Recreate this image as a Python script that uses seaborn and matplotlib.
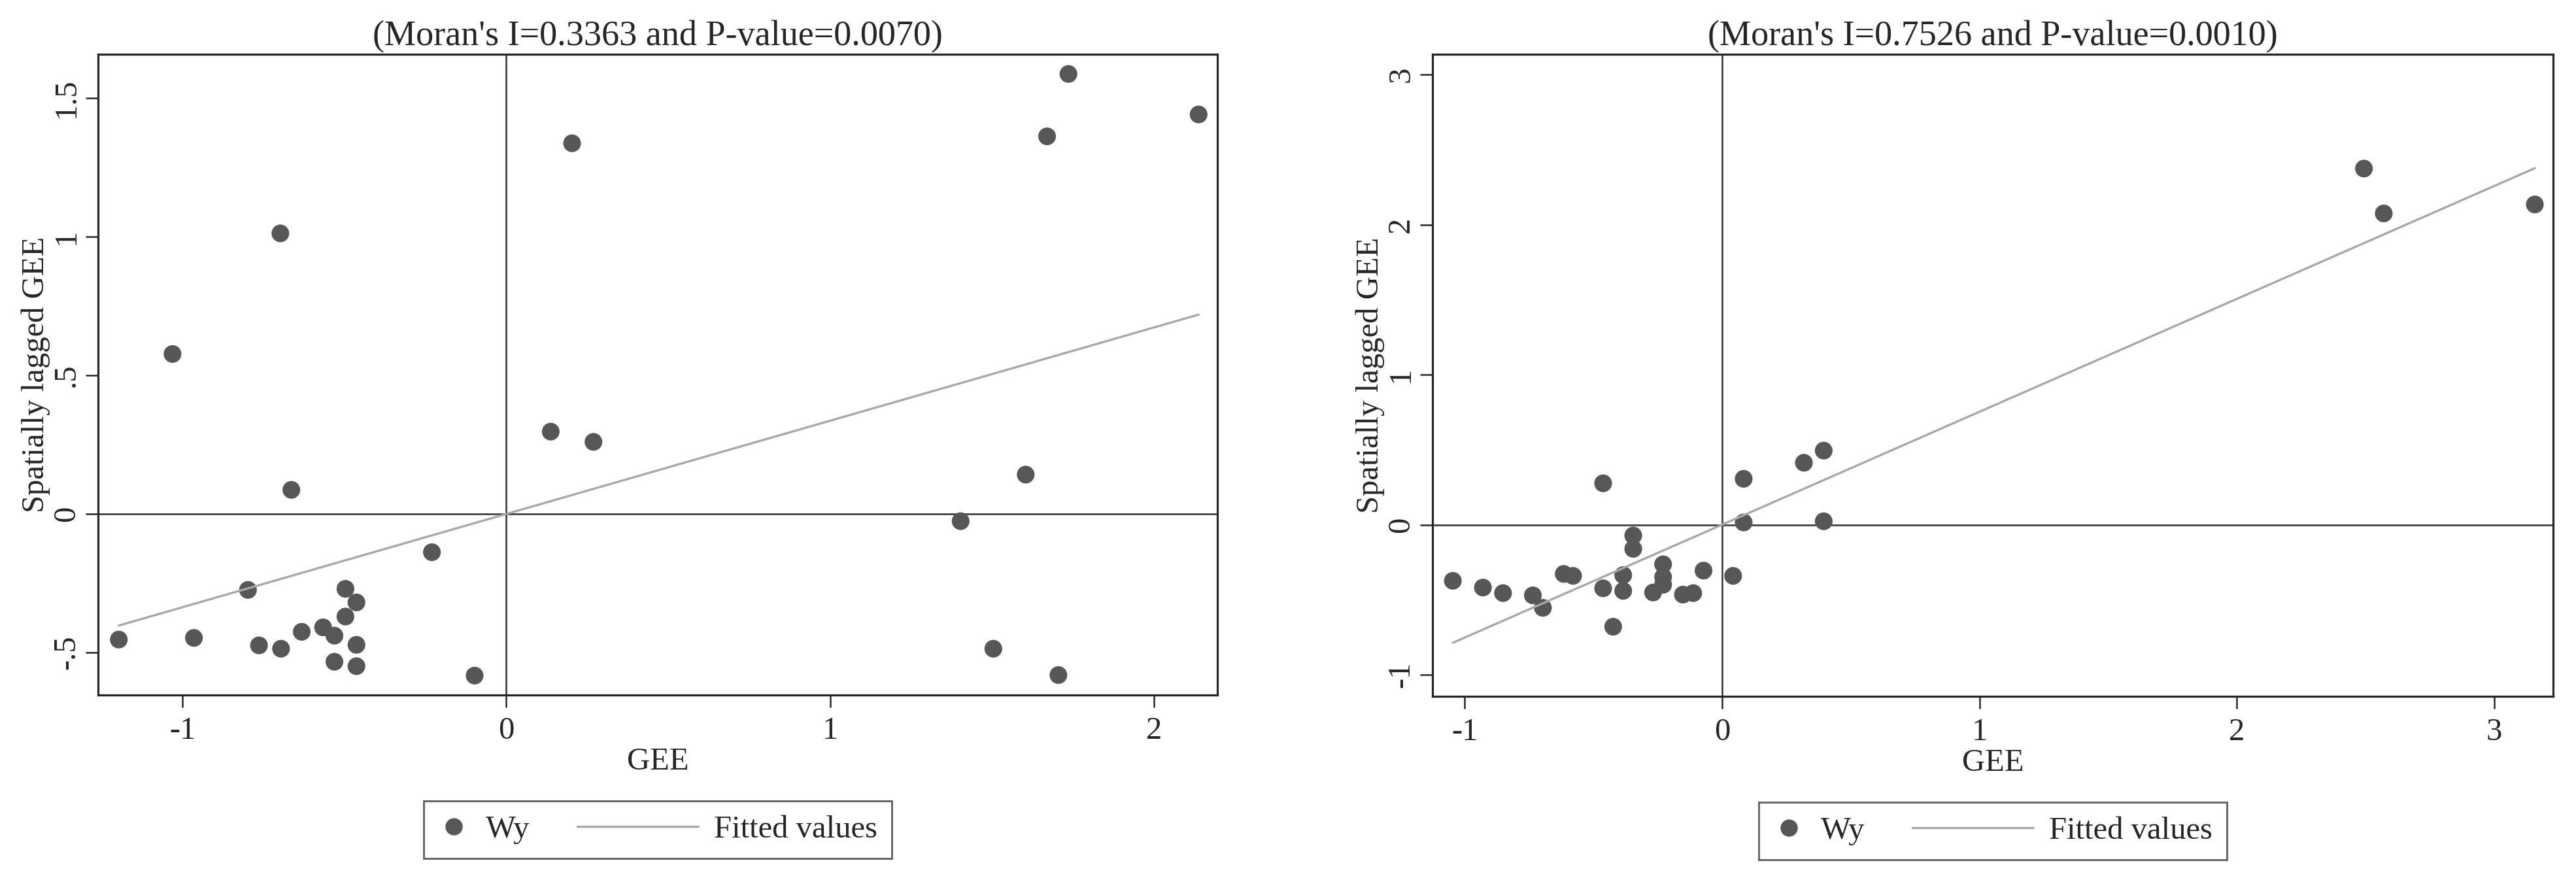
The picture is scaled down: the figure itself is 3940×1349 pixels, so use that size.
import numpy as np
import pandas as pd
import matplotlib
matplotlib.use("Agg")
import matplotlib.pyplot as plt
import seaborn as sns
from matplotlib.lines import Line2D
from matplotlib.legend_handler import HandlerLine2D

# ---------------- data ----------------
gee_a = [-1.197, -1.031, -0.965, -0.798, -0.764, -0.698, -0.696, -0.664, -0.632, -0.566,
         -0.531, -0.531, -0.497, -0.497, -0.463, -0.463, -0.463, -0.230, -0.098, 0.137,
         0.203, 0.269, 1.403, 1.504, 1.604, 1.670, 1.705, 1.736, 2.138]
wy_a = [-0.453, 0.577, -0.447, -0.274, -0.474, 1.012, -0.486, 0.087, -0.425, -0.409,
        -0.439, -0.533, -0.270, -0.370, -0.319, -0.472, -0.549, -0.138, -0.583, 0.297,
        1.337, 0.260, -0.026, -0.486, 0.142, 1.362, -0.581, 1.587, 1.441]

gee_b = [-1.046, -0.929, -0.851, -0.735, -0.696, -0.615, -0.579, -0.462, -0.462, -0.423,
         -0.384, -0.384, -0.345, -0.345, -0.268, -0.229, -0.229, -0.229, -0.152, -0.112,
         -0.072, 0.043, 0.084, 0.084, 0.318, 0.395, 0.395, 2.494, 2.571, 3.158]
wy_b = [-0.374, -0.419, -0.456, -0.471, -0.554, -0.328, -0.341, 0.276, -0.424, -0.680,
        -0.336, -0.441, -0.072, -0.161, -0.452, -0.264, -0.349, -0.400, -0.466, -0.456,
        -0.306, -0.341, 0.306, 0.015, 0.413, 0.494, 0.023, 2.374, 2.075, 2.135]

moran_i = [0.3363, 0.7526]
p_values = ["0.0070", "0.0010"]

xticks_a = [-1, 0, 1, 2]
xticklabels_a = ["-1", "0", "1", "2"]
yticks_a = [-0.5, 0, 0.5, 1, 1.5]
yticklabels_a = ["-.5", "0", ".5", "1", "1.5"]

xticks_b = [-1, 0, 1, 2, 3]
xticklabels_b = ["-1", "0", "1", "2", "3"]
yticks_b = [-1, 0, 1, 2, 3]
yticklabels_b = ["-1", "0", "1", "2", "3"]

xlim_a, ylim_a = (-1.261, 2.196), (-0.653, 1.658)
xlim_b, ylim_b = (-1.125, 3.229), (-1.144, 3.136)

x_label = "GEE"
y_label = "Spatially lagged GEE"
legend_labels = ["Wy", "Fitted values"]

# ---------------- style ----------------
sns.set_style("white")
plt.rcParams["font.family"] = ["Liberation Serif", "DejaVu Serif"]
plt.rcParams["axes.unicode_minus"] = False

FS = 35
FS_TITLE = 39
PT_COLOR = "#575757"
FIT_COLOR = "#a8a8a8"
FRAME = "#262626"


class LongLine(HandlerLine2D):
    def __init__(self, extra, **kw):
        super().__init__(**kw)
        self.extra = extra

    def get_xdata(self, legend, xdescent, ydescent, width, height, fontsize):
        xd, xm = super().get_xdata(legend, xdescent, ydescent, width, height, fontsize)
        return np.array([-xdescent - self.extra * fontsize, width - xdescent]), xm


fig = plt.figure(figsize=(39.4, 13.49), dpi=100)
ax_a = fig.add_axes([150 / 3940, 1 - 1063 / 1349, 1712 / 3940, 980 / 1349])
ax_b = fig.add_axes([2191 / 3940, 1 - 1065 / 1349, 1714 / 3940, 982 / 1349])

panels = [
    (ax_a, gee_a, wy_a, moran_i[0], p_values[0], xlim_a, ylim_a,
     xticks_a, xticklabels_a, yticks_a, yticklabels_a),
    (ax_b, gee_b, wy_b, moran_i[1], p_values[1], xlim_b, ylim_b,
     xticks_b, xticklabels_b, yticks_b, yticklabels_b),
]

for (ax, gx, gy, mi, pv, xl, yl, xt, xtl, yt, ytl) in panels:
    df = pd.DataFrame({"GEE": gx, "Wy": gy})
    xs = np.array([df["GEE"].min(), df["GEE"].max()])
    fit = pd.DataFrame({"GEE": xs, "Fitted": mi * xs})

    ax.axhline(0, color="#3a3a3a", lw=1.9, zorder=1)
    ax.axvline(0, color="#3a3a3a", lw=1.9, zorder=1)
    sns.scatterplot(data=df, x="GEE", y="Wy", ax=ax, color=PT_COLOR, s=380,
                    edgecolor="none", linewidth=0, legend=False, zorder=3)
    sns.lineplot(data=fit, x="GEE", y="Fitted", ax=ax, color=FIT_COLOR, lw=2.4,
                 legend=False, zorder=4)

    ax.set_xlim(*xl)
    ax.set_ylim(*yl)
    ax.set_xticks(xt)
    ax.set_xticklabels(xtl, fontsize=FS)
    ax.set_yticks(yt)
    ax.set_yticklabels(ytl, fontsize=FS, rotation=90, va="center")
    ax.tick_params(axis="both", direction="out", length=13.7, width=1.8,
                   color=FRAME, left=True, bottom=True)
    ax.tick_params(axis="x", pad=10)
    ax.tick_params(axis="y", pad=5)
    for sp in ax.spines.values():
        sp.set_visible(True)
        sp.set_color(FRAME)
        sp.set_linewidth(2.3)

    ax.set_xlabel(x_label, fontsize=FS, labelpad=2)
    ax.set_ylabel(y_label, fontsize=FS, labelpad=2)
    ax.set_title(f"(Moran's I={mi:.4f} and P-value={pv})", fontsize=FS_TITLE, pad=10)

    h_pt = Line2D([], [], marker="o", linestyle="", color=PT_COLOR,
                  markersize=19, markeredgewidth=0)
    h_ln = Line2D([], [], color=FIT_COLOR, lw=2.4)
    leg = ax.legend([h_pt, h_ln], legend_labels, loc="center",
                    bbox_to_anchor=(0.5, -0.21), ncol=2, fontsize=FS,
                    frameon=True, fancybox=False, edgecolor="#444444",
                    handlelength=1.0, handletextpad=0.5, columnspacing=4.3,
                    borderpad=0.45, handler_map={h_ln: LongLine(2.8)})
    leg.get_frame().set_linewidth(2.2)

fig.savefig("out.png", dpi=100, facecolor="white")
